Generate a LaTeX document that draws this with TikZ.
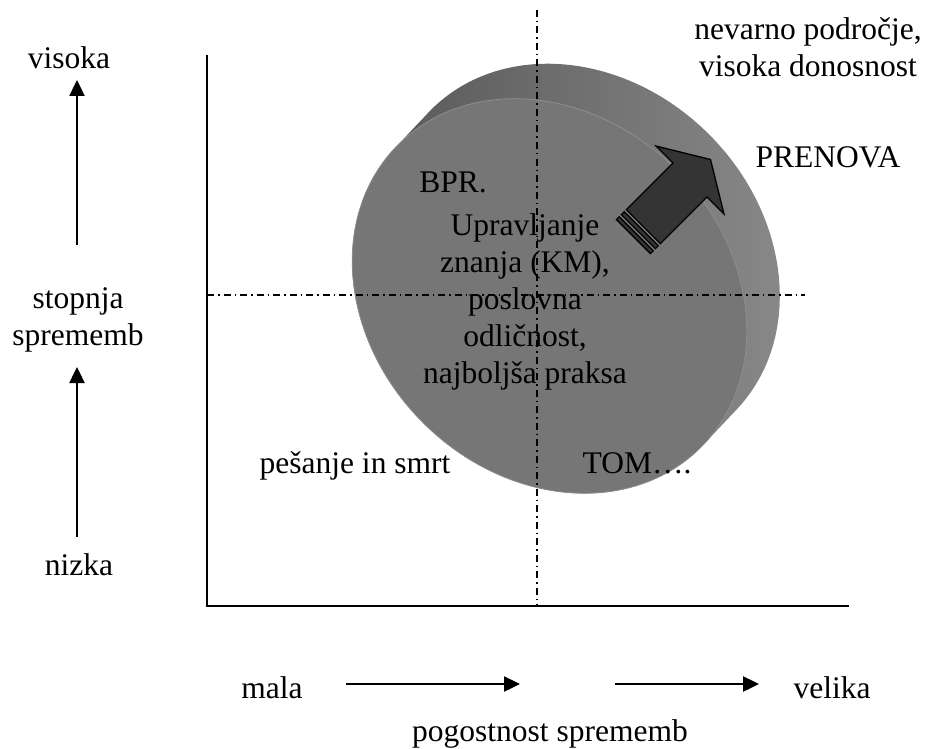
\documentclass[tikz,border=0pt]{standalone}
\usepackage{fontspec}
\setmainfont{Liberation Serif}
\usetikzlibrary{arrows.meta}
\definecolor{sidedark}{RGB}{84,84,84}
\definecolor{sidelight}{RGB}{138,138,138}
\definecolor{faceg}{RGB}{118,118,118}
\definecolor{faceedge}{RGB}{142,142,142}
\definecolor{arrowg}{RGB}{52,52,52}
\begin{document}
\begin{tikzpicture}[x=1pt,y=-1pt,
  lbl/.style={font=\fontsize{31.5}{37}\selectfont, inner sep=0pt, align=center},
  axisline/.style={line width=2pt},
  dashdot/.style={line width=1.3pt, dash pattern=on 7pt off 4pt on 1.5pt off 4pt},
  vecarrow/.style={line width=2.4pt, -{Triangle[length=16pt,width=15pt]}},
  blockarrow/.style={fill=arrowg, draw=black, line width=1.3pt, line join=miter},
  discside/.style={left color=sidedark, right color=sidelight},
  discface/.style={fill=faceg, draw=faceedge, line width=0.8pt}
  ]
\useasboundingbox (0,0) rectangle (926,749);

% --- disc: side (swept ellipses) ---
\begin{scope}
  \path[clip] \foreach \i in {0,...,24} { (549.5+1.375*\i, 296-1.458*\i) ellipse [x radius=214, y radius=179, rotate=-45] };
  \shade[discside] (340,40) rectangle (800,520);
\end{scope}
% --- disc: front face ---
\path[discface] (549.5,296) ellipse [x radius=214, y radius=179, rotate=-45];

% --- dash-dot quadrant lines ---
\coordinate (vtop) at (537,10);
\coordinate (vbot) at (537,606);
\coordinate (hleft) at (207,295);
\coordinate (hright) at (805,295);
\draw[dashdot] (vtop) -- (vbot);
\draw[dashdot] (hleft) -- (hright);

% --- axes ---
\coordinate (ytop) at (207,55);
\coordinate (origin) at (207,606);
\coordinate (xend) at (849,606);
\draw[axisline] (ytop) -- (origin) -- (xend);

% --- block arrow ---
\begin{scope}[shift={(690,180)}, rotate=45]
  \path[blockarrow] (-66,24) -- (0,24) -- (0,48) -- (29,0) -- (0,-48) -- (0,-24) -- (-66,-24) -- cycle;
  \path[blockarrow] (-73,-24) rectangle (-69,24);
  \path[blockarrow] (-80,-24) rectangle (-76,24);
\end{scope}

% --- labels ---
\node[lbl] (visoka) at (69,58) {visoka};
\node[lbl] (stopnja) at (78,320) {stopnja\\sprememb};
\node[lbl] (nizka) at (79,565) {nizka};
\node[lbl] (nevarno) at (808,47) {nevarno področje,\\visoka donosnost};
\node[lbl] (prenova) at (828,157) {PRENOVA};
\node[lbl] (bpr) at (453,182) {BPR.};
\node[lbl] (km) at (525,302) {Upravljanje\\znanja (KM),\\poslovna\\odličnost,\\najboljša praksa};
\node[lbl] (pesanje) at (355,466) {pešanje in smrt};
\node[lbl] (tom) at (637,463) {TOM….};
\node[lbl] (mala) at (272,688) {mala};
\node[lbl] (velika) at (832,688) {velika};
\node[lbl] (pogost) at (550,734) {pogostnost sprememb};

% --- direction arrows ---
\coordinate (a1s) at (77,245); \coordinate (a1e) at (77,80);
\coordinate (a2s) at (77,537); \coordinate (a2e) at (77,367);
\coordinate (a3s) at (346,684); \coordinate (a3e) at (520,684);
\coordinate (a4s) at (615,684); \coordinate (a4e) at (759,684);
\draw[vecarrow] (a1s) -- (a1e);
\draw[vecarrow] (a2s) -- (a2e);
\draw[vecarrow] (a3s) -- (a3e);
\draw[vecarrow] (a4s) -- (a4e);
\end{tikzpicture}
\end{document}
